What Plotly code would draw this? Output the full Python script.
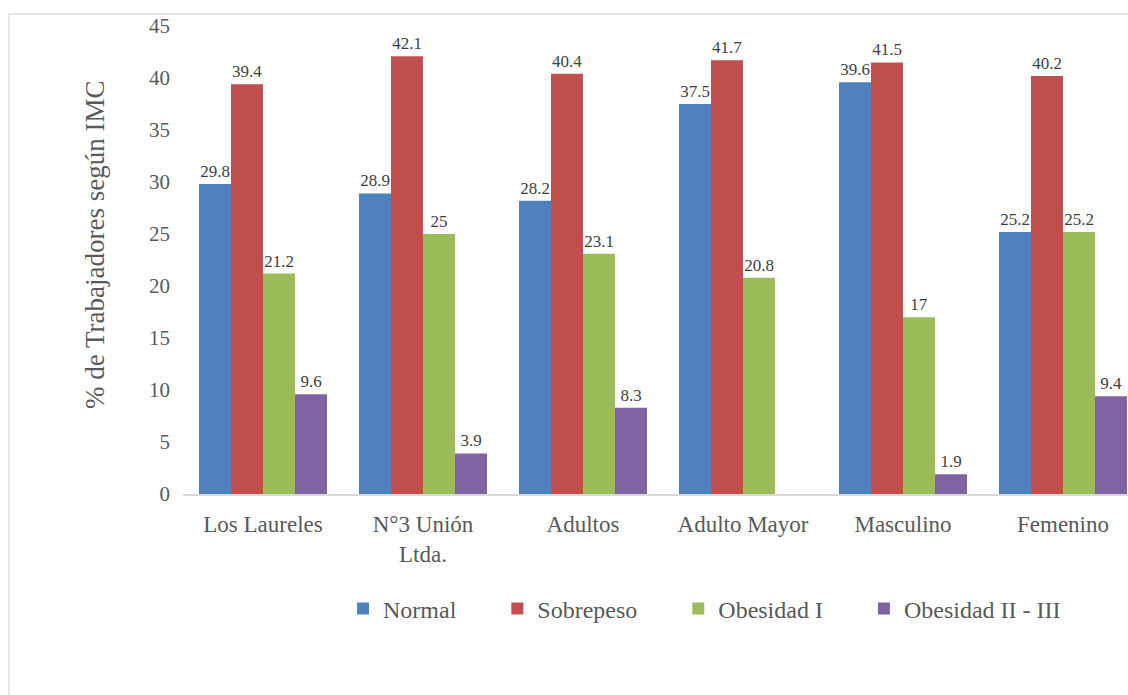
import plotly.graph_objects as go

categories = ["Los Laureles", "N°3 Unión<br>Ltda.", "Adultos", "Adulto Mayor", "Masculino", "Femenino"]
normal = [29.8, 28.9, 28.2, 37.5, 39.6, 25.2]
sobrepeso = [39.4, 42.1, 40.4, 41.7, 41.5, 40.2]
obesidad1 = [21.2, 25, 23.1, 20.8, 17, 25.2]
obesidad23 = [9.6, 3.9, 8.3, None, 1.9, 9.4]

series_names = ["Normal", "Sobrepeso", "Obesidad I", "Obesidad II - III"]
series_values = [normal, sobrepeso, obesidad1, obesidad23]
colors = ["#4F81BD", "#C0504D", "#9BBB59", "#8064A2"]

FONT = "Liberation Serif, DejaVu Serif, serif"
TXT = "#595959"
PAD = "\u00a0" * 6

fig = go.Figure()
for i, (name, vals, col) in enumerate(zip(series_names, series_values, colors)):
    fig.add_trace(go.Bar(
        x=categories, y=vals,
        name=name + (PAD if i < len(series_names) - 1 else ""),
        marker=dict(color=col, line=dict(width=0)),
        text=[("" if v is None else f"{v:g}") for v in vals],
        textposition="outside",
        textfont=dict(family=FONT, size=17, color="#404040"),
        cliponaxis=False,
    ))

L, T, B = 183, 26, 201
W, H = 1128, 695
pw = W - L
ph = H - T - B

fig.update_layout(
    width=W, height=H,
    margin=dict(l=L, r=0, t=T, b=B),
    paper_bgcolor="white", plot_bgcolor="white",
    barmode="group", bargap=0.2, bargroupgap=0,
    font=dict(family=FONT, color=TXT),
    showlegend=True,
    legend=dict(orientation="h", x=(343 - L) / pw, xanchor="left",
                y=(494 - 609) / ph, yanchor="middle",
                font=dict(family=FONT, size=24, color=TXT),
                itemwidth=30, tracegroupgap=0, traceorder="normal"),
    xaxis=dict(range=[-0.5, 5.5 - 15 / 160], showgrid=False, zeroline=False,
               showline=True, linecolor="#d9d9d9", linewidth=2,
               ticks="outside", ticklen=8, tickcolor="rgba(0,0,0,0)",
               tickfont=dict(family=FONT, size=23, color=TXT)),
    yaxis=dict(range=[0, 45], dtick=5, showgrid=False, zeroline=False,
               showline=False, ticks="", ticklabelstandoff=12,
               tickfont=dict(family=FONT, size=21, color=TXT)),
    annotations=[dict(text="% de Trabajadores según IMC", textangle=-90,
                      xref="paper", yref="paper",
                      x=(95 - L) / pw, y=(494 - 245) / ph,
                      xanchor="center", yanchor="middle", showarrow=False,
                      font=dict(family=FONT, size=27, color=TXT))],
    shapes=[dict(type="rect", xref="paper", yref="paper",
                 x0=(9 - L) / pw, x1=1.2, y0=-1.0, y1=(494 - 14) / ph,
                 line=dict(color="#e6e6e6", width=2), layer="below")],
)

fig.write_html("out.html")
